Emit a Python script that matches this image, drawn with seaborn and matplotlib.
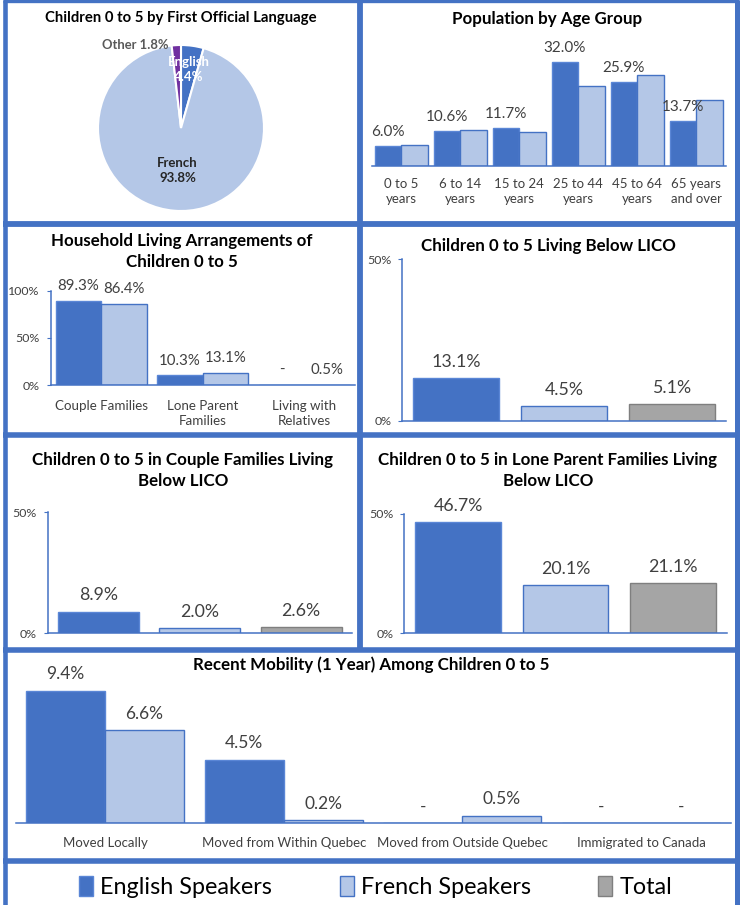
import numpy as np
import pandas as pd
import matplotlib
matplotlib.use("Agg")
import matplotlib.pyplot as plt
from matplotlib.lines import Line2D
from matplotlib.patches import Patch
import seaborn as sns

# ---------------- data ----------------
lang_labels = ["English", "French", "Other"]
lang_share = [4.4, 93.8, 1.8]

age_groups = ["0 to 5\nyears", "6 to 14\nyears", "15 to 24\nyears",
              "25 to 44\nyears", "45 to 64\nyears", "65 years\nand over"]
age_english = [6.0, 10.6, 11.7, 32.0, 25.9, 13.7]
age_french = [6.4, 11.0, 10.3, 24.5, 27.8, 20.2]

household_cats = ["Couple Families", "Lone Parent\nFamilies", "Living with\nRelatives"]
household_english = [89.3, 10.3, 0.0]
household_french = [86.4, 13.1, 0.5]

series_names = ["English Speakers", "French Speakers", "Total"]
lico_all = [13.1, 4.5, 5.1]
lico_couple = [8.9, 2.0, 2.6]
lico_lone = [46.7, 20.1, 21.1]

mobility_cats = ["Moved Locally", "Moved from Within Quebec",
                 "Moved from Outside Quebec", "Immigrated to Canada"]
mobility_english = [9.4, 4.5, 0.0, 0.0]
mobility_french = [6.6, 0.2, 0.5, 0.0]

# ---------------- style ----------------
C_ENG = "#4472C4"
C_FR = "#B4C7E7"
C_TOT = "#A5A5A5"
C_OTH = "#7030A0"
BORDER = "#4472C4"
EDGES = ["#5A86D6", "#4472C4", "#7F7F7F"]
TXT = "#404040"
TITLE_FS = 12.2

sns.set_style("white")
plt.rcParams["font.family"] = ["Lato", "DejaVu Sans"]

W, H = 740, 905
fig = plt.figure(figsize=(W / 100, H / 100), dpi=100)


def px_axes(x0, y0, x1, y1):
    return fig.add_axes([x0 / W, 1 - y1 / H, (x1 - x0) / W, (y1 - y0) / H])


def ftext(x, y, s, **kw):
    fig.text(x / W, 1 - y / H, s, ha="center", va="center", **kw)


def fmt(v):
    return "-" if v == 0 else f"{v:.1f}%"


def style_axis(ax, yticks=None):
    for s in ["top", "right"]:
        ax.spines[s].set_visible(False)
    ax.spines["bottom"].set_color(BORDER)
    ax.spines["bottom"].set_linewidth(1.1)
    ax.set_xlabel("")
    ax.set_ylabel("")
    if yticks is None:
        ax.spines["left"].set_visible(False)
        ax.set_yticks([])
    else:
        ax.spines["left"].set_color(BORDER)
        ax.spines["left"].set_linewidth(1.1)
        ax.set_yticks(yticks)
        ax.set_yticklabels([f"{t}%" for t in yticks])
        ax.tick_params(axis="y", length=3, color=BORDER, pad=5,
                       labelsize=8.9, labelcolor=TXT, left=True)


def grouped(ax, cats, eng, fr, ymax, width, lab_fs, lab_pad,
            label_fr=True, tick_fs=9, tick_pad=8, yticks=None):
    df = pd.DataFrame({
        "cat": cats * 2,
        "val": eng + fr,
        "grp": [series_names[0]] * len(cats) + [series_names[1]] * len(cats),
    })
    sns.barplot(data=df, x="cat", y="val", hue="grp", palette=[C_ENG, C_FR],
                width=width, ax=ax, legend=False, errorbar=None, saturation=1)
    for ci, cont in enumerate(ax.containers):
        for p in cont.patches:
            p.set_edgecolor(EDGES[ci])
            p.set_linewidth(1.0)
        vals = eng if ci == 0 else fr
        if ci == 1 and not label_fr:
            continue
        ax.bar_label(cont, labels=[fmt(v) for v in vals], padding=lab_pad,
                     fontsize=lab_fs, color=TXT, clip_on=False)
    ax.set_xlim(-0.5, len(cats) - 0.5)
    ax.set_ylim(0, ymax)
    style_axis(ax, yticks)
    ax.tick_params(axis="x", length=0, pad=tick_pad, labelsize=tick_fs,
                   labelcolor=TXT)
    for t in ax.get_xticklabels():
        t.set_linespacing(1.25)


def single(ax, vals, ymax, lab_fs=12.8, lab_pad=6):
    df = pd.DataFrame({"grp": series_names, "val": vals})
    sns.barplot(data=df, x="grp", y="val", hue="grp",
                palette=[C_ENG, C_FR, C_TOT], width=0.8, ax=ax, legend=False,
                errorbar=None, saturation=1)
    for ci, cont in enumerate(ax.containers):
        for p in cont.patches:
            p.set_edgecolor(EDGES[ci])
            p.set_linewidth(1.0)
        ax.bar_label(cont, labels=[fmt(v) for v in cont.datavalues],
                     padding=lab_pad, fontsize=lab_fs, color=TXT, clip_on=False)
    ax.set_xlim(-0.5, len(vals) - 0.5)
    ax.set_ylim(0, ymax)
    style_axis(ax, [0, 50])
    ax.set_xticks([])


# ---------------- panel 1: pie ----------------
ftext(181, 18, "Children 0 to 5 by First Official Language",
      fontsize=10.7, fontweight="bold", color="black")
R = 83
axp = px_axes(181 - R, 128 - R, 181 + R, 128 + R)
wedges, _ = axp.pie(lang_share, colors=[C_ENG, C_FR, C_OTH], startangle=90,
                    counterclock=False,
                    wedgeprops=dict(edgecolor="white", linewidth=1.5))
axp.set_xlim(-1, 1)
axp.set_ylim(-1, 1)
axp.set_aspect("equal")
axp.axis("off")
for w, lab, v in zip(wedges, lang_labels, lang_share):
    ang = np.deg2rad((w.theta1 + w.theta2) / 2)
    if lab == "English":
        axp.text(0.71 * np.cos(ang), 0.71 * np.sin(ang), f"{lab}\n{v}%",
                 ha="center", va="center", fontsize=9.5, fontweight="bold",
                 color="white", linespacing=1.3)
    elif lab == "French":
        axp.text(0.51 * np.cos(ang), 0.51 * np.sin(ang), f"{lab}\n{v}%",
                 ha="center", va="center", fontsize=9.5, fontweight="bold",
                 color="#262626", linespacing=1.3)
    else:
        axp.text(np.cos(ang) - 0.09, np.sin(ang), f"{lab} {v}%",
                 ha="right", va="center", fontsize=9.4, fontweight="bold",
                 color="#595959")

# ---------------- panel 2: age groups ----------------
ftext(547, 19, "Population by Age Group", fontsize=TITLE_FS,
      fontweight="bold", color="black")
axa = px_axes(371.7, 165.7 - 35 * 3.25, 725.7, 165.7)
grouped(axa, age_groups, age_english, age_french, 35, 0.9, 11, 5,
        label_fr=False, tick_fs=9.5, tick_pad=9)

# ---------------- panel 3: household ----------------
ftext(182, 241, "Household Living Arrangements of", fontsize=TITLE_FS,
      fontweight="bold", color="black")
ftext(182, 261.5, "Children 0 to 5", fontsize=TITLE_FS, fontweight="bold",
      color="black")
axh = px_axes(50.7, 290.7, 355, 385)
grouped(axh, household_cats, household_english, household_french, 100, 0.9,
        10.8, 5.5, tick_fs=9.6, tick_pad=11, yticks=[0, 50, 100])

# ---------------- panel 4: LICO ----------------
ftext(548, 245.5, "Children 0 to 5 Living Below LICO", fontsize=TITLE_FS,
      fontweight="bold", color="black")
axl = px_axes(402.3, 259.3, 725.7, 420.7)
single(axl, lico_all, 50)

# ---------------- panel 5: couple LICO ----------------
ftext(183, 460, "Children 0 to 5 in Couple Families Living",
      fontsize=TITLE_FS, fontweight="bold", color="black")
ftext(183, 480.5, "Below LICO", fontsize=TITLE_FS, fontweight="bold",
      color="black")
axc = px_axes(47.7, 512, 351.7, 633.3)
single(axc, lico_couple, 50)

# ---------------- panel 6: lone parent LICO ----------------
ftext(548, 460, "Children 0 to 5 in Lone Parent Families Living",
      fontsize=TITLE_FS, fontweight="bold", color="black")
ftext(548, 480.5, "Below LICO", fontsize=TITLE_FS, fontweight="bold",
      color="black")
axlp = px_axes(404.3, 514, 726.7, 633.3)
single(axlp, lico_lone, 50)

# ---------------- panel 7: mobility ----------------
ftext(371, 665, "Recent Mobility (1 Year) Among Children 0 to 5",
      fontsize=TITLE_FS, fontweight="bold", color="black")
axm = px_axes(15.6, 822.7 - 11 * 14.04, 730.5, 822.7)
grouped(axm, mobility_cats, mobility_english, mobility_french, 11, 0.885,
        12.5, 6, tick_fs=9.5, tick_pad=10)

# ---------------- legend ----------------
handles = [Patch(facecolor=C_ENG, edgecolor=EDGES[0]),
           Patch(facecolor=C_FR, edgecolor=EDGES[1]),
           Patch(facecolor=C_TOT, edgecolor=EDGES[2])]
fig.legend(handles=handles, labels=series_names, loc="center",
           bbox_to_anchor=(375.5 / W, 1 - 887 / H), ncol=3, frameon=False,
           fontsize=16.8, handlelength=0.6, handleheight=0.9,
           handletextpad=0.3, columnspacing=2.9, labelcolor="black")

# ---------------- panel borders ----------------
def hline(y, x0, x1, lw):
    fig.add_artist(Line2D([x0 / W, x1 / W], [1 - y / H, 1 - y / H],
                          transform=fig.transFigure, color=BORDER, lw=lw,
                          solid_capstyle="butt"))


def vline(x, y0, y1, lw):
    fig.add_artist(Line2D([x / W, x / W], [1 - y0 / H, 1 - y1 / H],
                          transform=fig.transFigure, color=BORDER, lw=lw,
                          solid_capstyle="butt"))


vline(5, 0, 905, 3.3)
vline(736.5, 0, 905, 3.6)
vline(360, 0, 649.5, 4.2)
hline(1.5, 3, 739, 2.4)
hline(224.5, 3, 739, 4.2)
hline(435.5, 3, 739, 4.0)
hline(649.5, 3, 739, 4.0)
hline(861, 3, 739, 4.0)

fig.savefig("out.png", dpi=100, facecolor="white")
